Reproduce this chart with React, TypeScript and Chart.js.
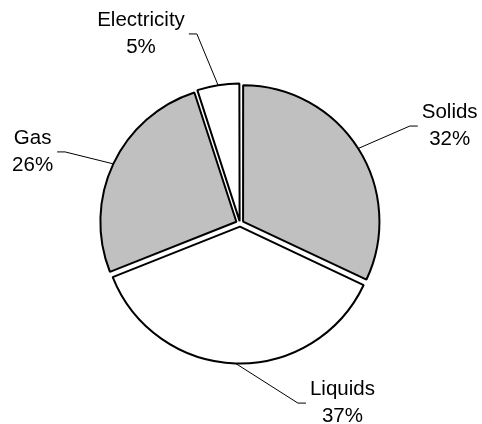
import React, { useEffect, useRef } from "react";
import { Chart, registerables } from "chart.js";

Chart.register(...registerables);

// ---- data ----
const categories = ["Solids", "Liquids", "Gas", "Electricity"];
const shares = [32, 37, 26, 5];

// ---- styling ----
const sliceColors = ["#c0c0c0", "#ffffff", "#c0c0c0", "#ffffff"];
const sliceOffsets = [14.6, 12.6, 16, 9.5];
// leader-line elbow placement: degrees clockwise from 12 o'clock, distance as multiple of radius
const labelAngles = [60.2, 161.7, 292.2, 347.1];
const labelDistances = [1.41, 1.36, 1.36, 1.4];

const FONT = "20.5px 'Liberation Sans', Arial, sans-serif";

const leaderPlugin = {
  id: "leaderLabels",
  afterDatasetsDraw(chart: any) {
    const ctx = chart.ctx as CanvasRenderingContext2D;
    const meta = chart.getDatasetMeta(0);
    meta.data.forEach((arc: any, i: number) => {
      const p = arc.getProps(["x", "y", "startAngle", "endAngle", "outerRadius", "circumference"], true);
      const off = (arc.options.offset || 0) / 4;
      const fix = 1 - Math.sin(Math.min(Math.PI, p.circumference || 0));
      const t = off + off * fix;
      const mid = (p.startAngle + p.endAngle) / 2;
      const cx = p.x + Math.cos(mid) * t;
      const cy = p.y + Math.sin(mid) * t;
      const ax = cx + Math.cos(mid) * p.outerRadius;
      const ay = cy + Math.sin(mid) * p.outerRadius;
      const la = ((labelAngles[i] - 90) * Math.PI) / 180;
      const ex = cx + Math.cos(la) * p.outerRadius * labelDistances[i];
      const ey = cy + Math.sin(la) * p.outerRadius * labelDistances[i];
      const dir = ex >= cx ? 1 : -1;
      const hx = ex + dir * 8;
      ctx.save();
      ctx.strokeStyle = "#000";
      ctx.lineWidth = 1;
      ctx.beginPath();
      ctx.moveTo(ax, ay);
      ctx.lineTo(ex, ey);
      ctx.lineTo(hx, ey);
      ctx.stroke();
      ctx.font = FONT;
      const lines = [categories[i], `${shares[i]}%`];
      const w = Math.max(...lines.map((l) => ctx.measureText(l).width));
      const tx = dir > 0 ? hx + 4 + w / 2 : hx - 4 - w / 2;
      ctx.textAlign = "center";
      ctx.textBaseline = "middle";
      ctx.fillStyle = "#000";
      ctx.fillText(lines[0], tx, ey - 13.5);
      ctx.fillText(lines[1], tx, ey + 13.5);
      ctx.restore();
    });
  },
};

export default function App() {
  const ref = useRef<HTMLCanvasElement | null>(null);
  useEffect(() => {
    if (!ref.current) return;
    const chart = new Chart(ref.current, {
      type: "pie",
      data: {
        labels: categories,
        datasets: [
          {
            data: shares,
            backgroundColor: sliceColors,
            borderColor: "#000",
            borderWidth: 2,
            offset: sliceOffsets,
            radius: 136,
          } as any,
        ],
      },
      options: {
        responsive: false,
        animation: false,
        devicePixelRatio: 1,
        layout: { padding: { left: 0, right: 2, top: 23, bottom: 0 } },
        plugins: {
          legend: { display: false },
          tooltip: { enabled: false },
        },
      },
      plugins: [leaderPlugin],
    });
    return () => chart.destroy();
  }, []);
  return (
    <div style={{ position: "fixed", left: 0, top: 0, width: 482, height: 424, background: "#fff" }}>
      <canvas ref={ref} width={482} height={424} style={{ display: "block" }} />
    </div>
  );
}
